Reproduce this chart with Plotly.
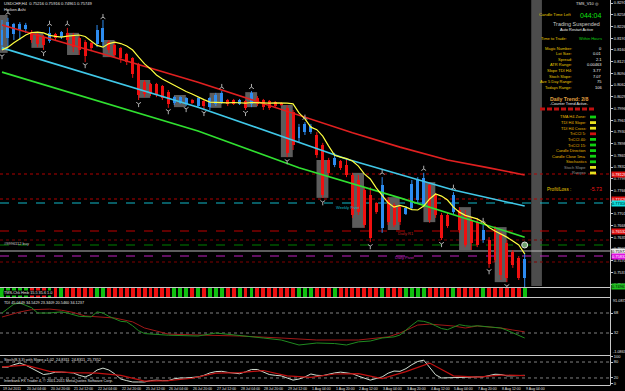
import plotly.graph_objects as go

W, H = 625, 391
AX_X = 610  # px where the price scale starts

# ---------------- data ----------------
symbol_title = "USDCHF,H4  0.75216 0.75916 0.74961 0.75749"
chart_mode = "Heiken Ashi"

time_labels = ["19 Jul 2011", "20 Jul 04:00", "20 Jul 20:00", "21 Jul 12:00", "22 Jul 04:00",
               "22 Jul 20:00", "25 Jul 12:00", "26 Jul 04:00", "26 Jul 20:00", "27 Jul 12:00",
               "28 Jul 04:00", "28 Jul 20:00", "29 Jul 12:00", "1 Aug 04:00", "1 Aug 20:00",
               "2 Aug 12:00", "3 Aug 04:00", "3 Aug 20:00", "4 Aug 12:00", "5 Aug 04:00",
               "7 Aug 20:00", "8 Aug 12:00", "9 Aug 04:00"]
time_label_bars = [0, 4, 8, 12, 16, 20, 24, 28, 32, 36, 40, 44, 48, 52, 56, 60, 64, 68, 72, 76, 80, 84, 88]

ha_open = [0.8174, 0.8194, 0.8205, 0.8216, 0.8219, 0.8210, 0.8205, 0.8196, 0.8185, 0.8205,
           0.8196, 0.8208, 0.8202, 0.8194, 0.8182, 0.8180, 0.8177, 0.8182, 0.8182, 0.8174,
           0.8166, 0.8149, 0.8138, 0.8121, 0.8070, 0.8065, 0.8065, 0.8059, 0.8042, 0.8012,
           0.8012, 0.8009, 0.8020, 0.8003, 0.8017, 0.8000, 0.8009, 0.8014, 0.8020, 0.8020,
           0.8009, 0.8017, 0.8009, 0.8026, 0.8020, 0.8017, 0.8014, 0.8012, 0.7998, 0.7986,
           0.7914, 0.7930, 0.7930, 0.7922, 0.7894, 0.7852, 0.7838, 0.7849, 0.7838, 0.7810,
           0.7796, 0.7768, 0.7754, 0.7732, 0.7662, 0.7740, 0.7726, 0.7720, 0.7701, 0.7718,
           0.7740, 0.7726, 0.7782, 0.7754, 0.7698, 0.7698, 0.7706, 0.7712, 0.7698, 0.7684,
           0.7678, 0.7628, 0.7628, 0.7662, 0.7642, 0.7620, 0.7594, 0.7578, 0.75216]
ha_high = [0.8244, 0.8250, 0.8236, 0.8238, 0.8236, 0.8216, 0.8208, 0.8202, 0.8224, 0.8208,
           0.8213, 0.8222, 0.8208, 0.8199, 0.8188, 0.8182, 0.8230, 0.8244, 0.8188, 0.8180,
           0.8168, 0.8152, 0.8140, 0.8124, 0.8076, 0.8068, 0.8068, 0.8062, 0.8048, 0.8031,
           0.8031, 0.8028, 0.8023, 0.8028, 0.8020, 0.8028, 0.8040, 0.8045, 0.8023, 0.8023,
           0.8023, 0.8020, 0.8045, 0.8031, 0.8023, 0.8020, 0.8017, 0.8014, 0.8006, 0.7992,
           0.7953, 0.7958, 0.7953, 0.7930, 0.7900, 0.7858, 0.7872, 0.7852, 0.7858, 0.7816,
           0.7810, 0.7776, 0.7776, 0.7734, 0.7804, 0.7748, 0.7732, 0.7726, 0.7723, 0.7796,
           0.7804, 0.7816, 0.7788, 0.7760, 0.7704, 0.7704, 0.7762, 0.7720, 0.7712, 0.7692,
           0.7690, 0.7670, 0.7636, 0.7667, 0.7650, 0.7628, 0.7600, 0.7583, 0.75916]
ha_low = [0.8160, 0.8168, 0.8188, 0.8188, 0.8208, 0.8180, 0.8168, 0.8160, 0.8180, 0.8188,
          0.8191, 0.8174, 0.8154, 0.8146, 0.8126, 0.8160, 0.8168, 0.8171, 0.8152, 0.8138,
          0.8124, 0.8118, 0.8082, 0.8020, 0.8028, 0.8031, 0.8028, 0.8020, 0.7998, 0.8006,
          0.8009, 0.8003, 0.8009, 0.8000, 0.7992, 0.7992, 0.8003, 0.8009, 0.8003, 0.8006,
          0.8006, 0.7992, 0.8000, 0.8003, 0.7992, 0.7992, 0.7998, 0.8003, 0.7860, 0.7880,
          0.7902, 0.7922, 0.7925, 0.7858, 0.7746, 0.7807, 0.7832, 0.7824, 0.7804, 0.7690,
          0.7698, 0.7662, 0.7622, 0.7701, 0.7648, 0.7670, 0.7664, 0.7670, 0.7698, 0.7712,
          0.7732, 0.7720, 0.7676, 0.7690, 0.7628, 0.7662, 0.7698, 0.7648, 0.7608, 0.7600,
          0.7608, 0.7620, 0.7550, 0.7566, 0.7516, 0.7510, 0.7550, 0.7516, 0.74961]
ha_close = [0.8216, 0.8238, 0.8233, 0.8233, 0.8230, 0.8188, 0.8177, 0.8174, 0.8208, 0.8194,
            0.8210, 0.8188, 0.8168, 0.8160, 0.8143, 0.8166, 0.8216, 0.8222, 0.8160, 0.8146,
            0.8138, 0.8126, 0.8093, 0.8034, 0.8037, 0.8040, 0.8034, 0.8026, 0.8009, 0.8028,
            0.8028, 0.8026, 0.8012, 0.8026, 0.8003, 0.8026, 0.8034, 0.8040, 0.8009, 0.8009,
            0.8020, 0.7998, 0.8040, 0.8009, 0.8000, 0.7998, 0.8003, 0.8006, 0.7872, 0.7894,
            0.7944, 0.7953, 0.7947, 0.7866, 0.7754, 0.7816, 0.7858, 0.7830, 0.7810, 0.7698,
            0.7706, 0.7670, 0.7634, 0.7706, 0.7782, 0.7678, 0.7670, 0.7678, 0.7718, 0.7785,
            0.7796, 0.7802, 0.7684, 0.7698, 0.7634, 0.7667, 0.7754, 0.7656, 0.7614, 0.7620,
            0.7614, 0.7656, 0.7561, 0.7572, 0.7530, 0.7522, 0.7558, 0.7522, 0.75749]

fast_ma = [0.8160, 0.8168, 0.8180, 0.8191, 0.8202, 0.8209, 0.8210, 0.8208, 0.8201, 0.8198,
           0.8196, 0.8199, 0.8201, 0.8202, 0.8198, 0.8185, 0.8173, 0.8168, 0.8178, 0.8182,
           0.8178, 0.8171, 0.8160, 0.8140, 0.8121, 0.8107, 0.8090, 0.8079, 0.8070, 0.8062,
           0.8054, 0.8044, 0.8037, 0.8028, 0.8021, 0.8014, 0.8013, 0.8012, 0.8012, 0.8013,
           0.8012, 0.8011, 0.8013, 0.8012, 0.8012, 0.8011, 0.8012, 0.8012, 0.8011, 0.8009,
           0.7984, 0.7967, 0.7944, 0.7937, 0.7919, 0.7891, 0.7865, 0.7860, 0.7856, 0.7849,
           0.7835, 0.7813, 0.7799, 0.7774, 0.7754, 0.7732, 0.7720, 0.7725, 0.7720, 0.7713,
           0.7712, 0.7723, 0.7743, 0.7757, 0.7751, 0.7740, 0.7720, 0.7706, 0.7697, 0.7691,
           0.7687, 0.7678, 0.7663, 0.7653, 0.7645, 0.7636, 0.7625, 0.7614, 0.7589]

slow_ma_bars = [0, 17, 33, 50, 59, 67, 75, 82, 88]
slow_ma = [0.8230, 0.8149, 0.8070, 0.7978, 0.7928, 0.7888, 0.7852, 0.7830, 0.7810]
cyan_ma_bars = [0, 33, 58, 76, 88]
cyan_ma = [0.8166, 0.8000, 0.7855, 0.7768, 0.7723]
green_ma_bars = [0, 27, 33, 50, 67, 88]
green_ma = [0.8098, 0.7964, 0.7933, 0.7830, 0.7746, 0.7636]

session_start = [-1, 5, 11, 17, 23, 29, 35, 41, 47, 53, 59, 65, 71, 77, 83]
session_high = [0.8258, 0.8208, 0.8208, 0.8188, 0.8076, 0.8034, 0.8040, 0.8042, 0.8006,
                0.7852, 0.7816, 0.7748, 0.7790, 0.7720, 0.7664]
session_low = [0.8152, 0.8166, 0.8146, 0.8140, 0.8026, 0.8000, 0.7998, 0.8000, 0.7860,
               0.7746, 0.7662, 0.7656, 0.7678, 0.7600, 0.7510]

frac_up_bars = [1, 8, 11, 17, 37, 42, 51, 64, 71, 76, 81]
frac_up = [0.8264, 0.8233, 0.8233, 0.8252, 0.8056, 0.8056, 0.7970, 0.7816, 0.7827, 0.7774, 0.7681]
frac_dn_bars = [0, 7, 14, 23, 28, 31, 34, 41, 48, 54, 62, 74, 82, 85]
frac_dn = [0.8143, 0.8152, 0.8118, 0.8009, 0.7989, 0.7995, 0.7984, 0.7984, 0.7849, 0.7734,
           0.7611, 0.7617, 0.7541, 0.7499]

level_prices = [0.78128, 0.77428, 0.77316, 0.76532, 0.76280, 0.76140, 0.75972, 0.75832, 0.75664]
level_names = ["", "", "Weekly Pivot", "Daily R1", "", "", "#9996112 buy", "Daily Pivot", ""]
price_ticks = [0.82916, 0.82588, 0.82260, 0.81932, 0.81604, 0.81276, 0.80948, 0.80620, 0.80292,
               0.79964, 0.79636, 0.79308, 0.78980, 0.78652, 0.78324, 0.77996, 0.77668, 0.77340,
               0.77012, 0.76684, 0.76356, 0.76028, 0.75700, 0.75372, 0.75044]

strip_state = list("GGGGGRRRGRGRRRRRGGRRRRRRRRRRRGGGRGRGGGRRGRGRRRRRRRGGGRRRGRRRRRRRGRRRGGGGRRRRGRRRRGRRRRRRG")
strip_label = "TMS-Chk Hmb 15.5 35.6 1.0"

tdi_label = "TDI 45.0449 34.5429 23.3409 20.5460 34.1237"
tdi_green_bars = [0, 2, 3, 4, 5, 6, 8, 10, 11, 13, 15, 16, 17, 18, 20, 21, 22, 23, 24, 28,
                  33, 36, 38, 41, 44, 47, 50, 53, 56, 58, 60, 62, 64, 66, 67, 69, 70, 71, 72, 73,
                  74, 75, 76, 77, 78, 79, 80, 81, 82, 83, 84, 85, 86, 87, 88]
tdi_green = [68, 84, 86, 82, 77.5, 68, 68, 70, 68, 62, 61, 70, 68, 62, 53, 52, 45, 36, 31, 28,
             26.6, 32, 30, 26.6, 23, 19.4, 10.4, 14, 13, 10.4, 16, 17.6, 23, 25, 28.4, 46, 54, 53, 50, 45,
             40, 38, 42, 47, 45, 44, 45, 44, 43, 42, 41, 37, 32, 27, 23]
tdi_red_bars = [0, 3, 5, 8, 10, 12, 14, 16, 19, 22, 24, 26, 28, 33, 40, 47, 53, 60, 65, 67,
                70, 72, 74, 76, 78, 80, 82, 84, 86, 88]
tdi_red = [60.8, 69.8, 74, 75, 73, 69, 62.6, 61, 59, 52, 41, 35.6, 30, 28.4, 26.6, 23, 19.4, 19.4, 25, 32,
           46.4, 48, 46.4, 44.6, 41, 44.6, 42.8, 41, 37.4, 34]

stoch_label = "Stoch(8,3,3) with Slope =1.02  24.8311  24.8311  25.7352"
stoch_main = [61, 61, 70, 76, 68, 57, 43, 33, 36, 42,
              42, 41, 39, 30, 24, 33, 50, 57, 50, 35,
              16, 10, 5, 5, 5, 10, 12, 10, 10, 17,
              20, 20, 21, 24, 30, 39, 44, 45, 41, 38,
              36, 43, 52, 52, 44, 33, 30, 28, 20, 12,
              16, 24, 35, 30, 29, 35, 39, 42, 40, 36,
              27, 18, 12, 18, 24, 38, 46, 45, 55, 70,
              82, 87, 60, 32, 20, 21, 22, 22, 22, 23,
              24, 24, 30, 34, 33, 28, 28, 28, 30]
stoch_signal_bars = [0, 4, 8, 12, 16, 20, 24, 28, 32, 36, 40, 44, 48, 52, 56, 60, 64, 68, 72, 76, 80, 84, 88]
stoch_signal = [62, 68, 45, 40, 38, 30, 8, 10, 19, 38, 40, 48, 28, 22, 35, 36, 18, 44, 76, 28, 23, 31, 29]

copyright_text = "Interbank FX Trader 4, \u00a9 2001-2011 MetaQuotes Software Corp."

info_rows = [("Magic Number:", "0"), ("Lot Size:", "0.01"), ("Spread:", "2.1"),
             ("ATR Range:", "0.00463"), ("Slope TDI H4:", "3.77"), ("Stoch Slope:", "7.07"),
             ("Ave 5 Day Range:", "75"), ("Todays Range:", "106")]
status_rows = ["TMA H4 Zone:", "TDI H4 Slope:", "TDI H4 Cross:", "TriCCI 5:", "TriCCI 40:",
               "TriCCI 15:", "Candle Direction", "Candle Close 5ma", "Stochastics", "Stoch Slope", "Ranges"]
status_state = ["G", "Y", "Y", "R", "G", "G", "G", "G", "G", "Y", "Y"]
profit_loss = "-5.73"

# ---------------- styling helpers ----------------
FONT = "Liberation Sans"
RED_C, BLUE_C = "#f01010", "#2d8cf0"
STATE_COL = {"G": "#10d010", "Y": "#e8e020", "R": "#d01010"}


def fx(px):
    return px / W


def fy(py):
    return 1 - py / H


annotations = []


def txt(px, py, text, color="#e0e0e0", size=4.2, anchor="left", bg=None, xref="paper", yref="paper", xv=None, yv=None):
    a = dict(x=fx(px) if xv is None else xv, y=fy(py) if yv is None else yv, xref=xref, yref=yref,
             text=text, showarrow=False, xanchor=anchor, yanchor="middle",
             font=dict(family=FONT, size=size, color=color), borderpad=0)
    if bg:
        a["bgcolor"] = bg
    annotations.append(a)


n = len(ha_open)
bars = list(range(n))
fig = go.Figure()

# ---- candles (Heiken Ashi) ----
up_idx = [i for i in bars if ha_close[i] >= ha_open[i]]
dn_idx = [i for i in bars if ha_close[i] < ha_open[i]]
for idx, col in ((dn_idx, RED_C), (up_idx, BLUE_C)):
    wx, wy = [], []
    for i in idx:
        wx += [i, i, None]
        wy += [ha_low[i], ha_high[i], None]
    fig.add_trace(go.Scatter(x=wx, y=wy, mode="lines", line=dict(color=col, width=1),
                             xaxis="x", yaxis="y", hoverinfo="skip"))
    fig.add_trace(go.Bar(x=idx, y=[max(abs(ha_close[i] - ha_open[i]), 0.00008) for i in idx],
                         base=[min(ha_open[i], ha_close[i]) for i in idx], width=0.5,
                         marker=dict(color=col, line=dict(width=0)), xaxis="x", yaxis="y", hoverinfo="skip"))

# ---- moving averages ----
fig.add_trace(go.Scatter(x=green_ma_bars, y=green_ma, mode="lines", line=dict(color="#30e030", width=1.6),
                         xaxis="x", yaxis="y"))
fig.add_trace(go.Scatter(x=cyan_ma_bars, y=cyan_ma, mode="lines", line=dict(color="#40c8e8", width=1.6),
                         xaxis="x", yaxis="y"))
fig.add_trace(go.Scatter(x=slow_ma_bars, y=slow_ma, mode="lines", line=dict(color="#e02020", width=1.6),
                         xaxis="x", yaxis="y"))
fig.add_trace(go.Scatter(x=bars, y=fast_ma, mode="lines", line=dict(color="#ffff40", width=1.2),
                         xaxis="x", yaxis="y"))

# ---- fractals ----
fig.add_trace(go.Scatter(x=frac_up_bars, y=frac_up, mode="markers",
                         marker=dict(symbol="y-up", size=4, line=dict(color="#b0b0b0", width=1)),
                         xaxis="x", yaxis="y"))
fig.add_trace(go.Scatter(x=frac_dn_bars, y=frac_dn, mode="markers",
                         marker=dict(symbol="y-down", size=4, line=dict(color="#b0b0b0", width=1)),
                         xaxis="x", yaxis="y"))
fig.add_trace(go.Scatter(x=[bars[-1]], y=[level_prices[5]], mode="markers",
                         marker=dict(symbol="circle", size=6, color="#70a070", line=dict(color="#e0e0e0", width=1)),
                         xaxis="x", yaxis="y"))

# ---- strip indicator ----
fig.add_trace(go.Bar(x=bars, y=[1] * n, base=[0] * n, width=0.66,
                     marker=dict(color=["#10c010" if s == "G" else "#ee1010" for s in strip_state],
                                 line=dict(width=0)), xaxis="x", yaxis="y2"))

# ---- TDI ----
fig.add_trace(go.Scatter(x=tdi_red_bars, y=tdi_red, mode="lines", line=dict(color="#a01818", width=1),
                         xaxis="x", yaxis="y3"))
fig.add_trace(go.Scatter(x=tdi_green_bars, y=tdi_green, mode="lines", line=dict(color="#208a20", width=1),
                         xaxis="x", yaxis="y3"))

# ---- Stoch ----
fig.add_trace(go.Scatter(x=bars, y=stoch_main, mode="lines", line=dict(color="#d0dcd0", width=1),
                         xaxis="x", yaxis="y4"))
fig.add_trace(go.Scatter(x=stoch_signal_bars, y=stoch_signal, mode="lines", line=dict(color="#c01010", width=1.2),
                         xaxis="x", yaxis="y4"))

# ---------------- shapes ----------------
shapes = []
for s, top, bot in zip(session_start, session_high, session_low):
    shapes.append(dict(type="rect", xref="x", yref="y", x0=s - 0.05, x1=s + 1.95, y0=bot, y1=top,
                       fillcolor="#5c5c5c", line=dict(width=0), layer="below"))
# chart-shift zone
shapes.append(dict(type="rect", xref="x", yref="paper", x0=89.1, x1=90.9, y0=fy(286), y1=1,
                   fillcolor="#4c4c4c", line=dict(width=0), layer="below"))
level_style = [("#b00000", "dot"), ("#b00000", "dot"), ("#10b8c8", "dash"), ("#c00000", "dash"),
               ("#800000", "dot"), ("#008000", "dash"), ("#b8b8b8", "solid"), ("#c020c0", "dash"),
               ("#800000", "dot")]
for p, (c, d) in zip(level_prices, level_style):
    shapes.append(dict(type="line", xref="paper", yref="y", x0=0, x1=fx(AX_X), y0=p, y1=p,
                       line=dict(color=c, width=1, dash=d), layer="below"))
for lv in (68, 32):
    shapes.append(dict(type="line", xref="paper", yref="y3", x0=0, x1=fx(AX_X), y0=lv, y1=lv,
                       line=dict(color="#808080", width=1, dash="dot"), layer="below"))
for lv in (80, 20):
    shapes.append(dict(type="line", xref="paper", yref="y4", x0=0, x1=fx(AX_X), y0=lv, y1=lv,
                       line=dict(color="#808080", width=1, dash="dot"), layer="below"))
for py in (287.5, 297.5, 355.5, 385.5):
    shapes.append(dict(type="line", xref="paper", yref="paper", x0=0, x1=fx(AX_X), y0=fy(py), y1=fy(py),
                       line=dict(color="#c8c8c8", width=1)))
shapes.append(dict(type="line", xref="paper", yref="paper", x0=fx(AX_X + 0.5), x1=fx(AX_X + 0.5), y0=fy(385.5), y1=1,
                   line=dict(color="#c8c8c8", width=1)))
# trend squares
for k in range(8):
    shapes.append(dict(type="rect", xref="paper", yref="paper", x0=fx(540 + 7 * k), x1=fx(545 + 7 * k),
                       y0=fy(110.5), y1=fy(107.5), fillcolor="#c01010", line=dict(width=0)))
# status boxes
for r, st in enumerate(status_state):
    py = 117 + r * 5.6
    shapes.append(dict(type="rect", xref="paper", yref="paper", x0=fx(590), x1=fx(596),
                       y0=fy(py + 1.4), y1=fy(py - 1.4), fillcolor=STATE_COL[st], line=dict(width=0)))

# ---------------- texts ----------------
txt(3, 4, symbol_title, size=4.1)
txt(3, 9.5, chart_mode, size=4.1)
txt(335, 207, level_names[2], color="#10b8c8", size=4.0)
txt(397, 233, level_names[3], color="#c02020", size=4.0)
txt(3, 243, level_names[6], color="#c8c8c8", size=4.0)
txt(394, 257, level_names[7], color="#c020c0", size=4.0)
txt(3, 292.5, strip_label, size=3.8, bg="#000000")
txt(3, 303, tdi_label, size=3.8)
txt(3, 359.5, stoch_label, size=3.8)
txt(3, 381, copyright_text, size=3.8)
for b, lab in zip(time_label_bars, time_labels):
    txt(0, 388.5, lab, size=3.5, xref="x", xv=b)

# price labels on the scale
box_style = [("#e01010", "#ffffff"), ("#e01010", "#ffffff"), ("#10e0e0", "#000000"), ("#e01010", "#ffffff"),
             None, None, ("#f0f0f0", "#000000"), ("#e010e0", "#ffffff"), None]
for p, bs in zip(level_prices, box_style):
    if bs:
        txt(AX_X + 1, 0, "%.5f" % p, color=bs[1], size=4.0, bg=bs[0], yref="y", yv=p)
txt(AX_X + 1, 286, "%.5f" % ha_low[-1], color="#000000", size=4.0, bg="#20c020")
txt(AX_X + 2, 301, "91.0872", size=3.8)
txt(AX_X + 2, 352, "-1.0863", size=3.8)

# info panel
txt(600, 4, "TMS_V10 \u25ce", size=4.0, anchor="right")
txt(572, 15, "Candle Time Left", color="#e8c800", size=4.2, anchor="right")
txt(579, 15.5, "044:04", color="#10e010", size=7)
txt(576, 24, "Trading Suspended", color="#c8c8c8", size=5.4, anchor="center")
txt(576, 29, "Auto Restart Active", color="#f0f0f0", size=3.9, anchor="center")
txt(568, 38, "Time to Trade:", color="#e8c800", size=4.0, anchor="right")
txt(603, 38, "Within Hours", color="#10d010", size=4.0, anchor="right")
for r, (lab, val) in enumerate(info_rows):
    py = 48 + r * 5.6
    txt(573, py, lab, color="#e8c800", size=4.0, anchor="right")
    txt(603, py, val, color="#f0f0f0", size=4.0, anchor="right")
txt(569, 99, "<b>Daily Trend: 2/8</b>", color="#e0a040", size=5.2, anchor="center")
txt(569, 104, "-Counter Trend Active-", color="#f0f0f0", size=3.8, anchor="center")
for r, lab in enumerate(status_rows):
    py = 117 + r * 5.6
    col = "#909090" if lab in ("Stoch Slope", "Ranges") else "#e8b800"
    txt(587, py, lab, color=col, size=4.0, anchor="right")
txt(572, 189, "Profit/Loss :", color="#e8c800", size=4.6, anchor="right")
txt(603, 189, profit_loss, color="#f01818", size=5.2, anchor="right")

# ---------------- layout ----------------
tick_font = dict(family=FONT, size=4.0, color="#e0e0e0")
common_y = dict(side="right", anchor="x", showgrid=False, zeroline=False, automargin=False,
                ticks="outside", ticklen=2, tickcolor="#c8c8c8", tickfont=tick_font, fixedrange=True)

fig.update_layout(
    width=W, height=H, margin=dict(l=0, r=0, t=0, b=0),
    paper_bgcolor="#000000", plot_bgcolor="#000000",
    showlegend=False, barmode="overlay", bargap=0,
    xaxis=dict(domain=[0, fx(AX_X)], range=[-0.3367, 102.36], showgrid=False, zeroline=False,
               showticklabels=False, showline=False, ticks="", fixedrange=True),
    yaxis=dict(domain=[fy(287), 1], range=[0.74964, 0.8300], tickvals=price_ticks,
               ticktext=["%.5f" % t for t in price_ticks], **common_y),
    yaxis2=dict(domain=[fy(297), fy(288)], range=[0, 1], showticklabels=False, ticks="",
                showgrid=False, zeroline=False, anchor="x", fixedrange=True),
    yaxis3=dict(domain=[fy(355), fy(298)], range=[-7.6, 95], tickvals=[68, 32], ticktext=["68", "32"], **common_y),
    yaxis4=dict(domain=[fy(383.3), fy(356.7)], range=[0, 100], tickvals=[100, 80, 20, 0],
                ticktext=["100", "80", "20", "0"], **common_y),
    shapes=shapes, annotations=annotations,
)

fig.write_html("out.html")
